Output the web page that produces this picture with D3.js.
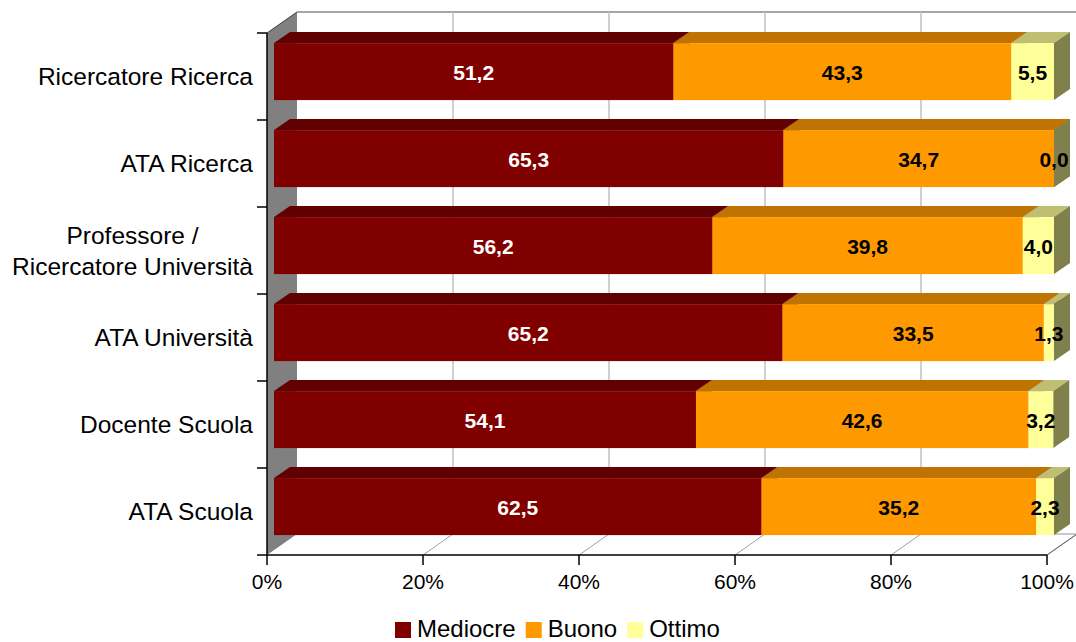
<!DOCTYPE html>
<html>
<head>
<meta charset="utf-8">
<script src="https://cdn.jsdelivr.net/npm/d3@7"></script>
<style>
  html, body { margin: 0; padding: 0; background: #fff; }
  svg { display: block; font-family: "Liberation Sans", Arial, sans-serif; }
</style>
</head>
<body>
<svg id="chart" width="1076" height="642"></svg>
<script>
// Categories, top to bottom
const categories = [
  "Ricercatore Ricerca",
  "ATA Ricerca",
  "Professore / Ricercatore Università",
  "ATA Università",
  "Docente Scuola",
  "ATA Scuola"
];
const seriesNames = ["Mediocre", "Buono", "Ottimo"];
const mediocre = [51.2, 65.3, 56.2, 65.2, 54.1, 62.5];
const buono    = [43.3, 34.7, 39.8, 33.5, 42.6, 35.2];
const ottimo   = [5.5, 0.0, 4.0, 1.3, 3.2, 2.3];
const tickValues = [0, 20, 40, 60, 80, 100];
const tickLabels = ["0%", "20%", "40%", "60%", "80%", "100%"];

const colors = {
  front: ["#800000", "#FF9900", "#FFFF99"],
  top:   ["#600000", "#BF7300", "#BFBF73"],
  side:  ["#400000", "#804C00", "#80804C"],
  label: ["#ffffff", "#000000", "#000000"]
};

const rows = categories.map((c, i) => ({
  cat: c,
  values: [mediocre[i], buono[i], ottimo[i]]
}));

const svg = d3.select("#chart");

// Front plane of the plot box
const x = d3.scaleLinear().domain([0, 100]).range([267, 1047]);
const y = d3.scaleBand().domain(categories).range([33, 555])
  .paddingInner(0.345).paddingOuter(0.1725);
const yTop = 33, yBottom = 555;

// Depth projection: z = 0 front plane, z = 1 back wall
const DX = 30, DY = -21;
const P = (px, py, z) => [px + z * DX, py + z * DY];
const zFront = 7 / 30, zBack = 23 / 30;

const pts = arr => arr.map(p => p.join(",")).join(" ");

// Left side wall
svg.append("polygon")
  .attr("points", pts([P(x(0), yTop, 0), P(x(0), yTop, 1), P(x(0), yBottom, 1), P(x(0), yBottom, 0)]))
  .attr("fill", "#808080");

// Back wall top edge
svg.append("line")
  .attr("x1", P(x(0), yTop, 1)[0]).attr("y1", P(x(0), yTop, 1)[1])
  .attr("x2", P(x(100), yTop, 1)[0]).attr("y2", P(x(100), yTop, 1)[1])
  .attr("stroke", "#a6a6a6").attr("stroke-width", 2);

// Back wall gridlines
svg.append("g").selectAll("line")
  .data(tickValues.filter(v => v > 0))
  .join("line")
  .attr("x1", d => P(x(d), yTop, 1)[0]).attr("y1", P(0, yTop, 1)[1])
  .attr("x2", d => P(x(d), yBottom, 1)[0]).attr("y2", P(0, yBottom, 1)[1])
  .attr("stroke", "#c0c0c0").attr("stroke-width", 1.5);

// Floor: back edge and depth lines
svg.append("line")
  .attr("x1", P(x(0), yBottom, 1)[0]).attr("y1", P(0, yBottom, 1)[1])
  .attr("x2", P(x(100), yBottom, 1)[0]).attr("y2", P(0, yBottom, 1)[1])
  .attr("stroke", "#909090").attr("stroke-width", 1);
svg.append("g").selectAll("line")
  .data(tickValues.filter(v => v > 0))
  .join("line")
  .attr("x1", d => x(d)).attr("y1", yBottom)
  .attr("x2", d => P(x(d), yBottom, 1)[0]).attr("y2", P(0, yBottom, 1)[1])
  .attr("stroke", "#a0a0a0").attr("stroke-width", 1);

// Left wall top edge
svg.append("line")
  .attr("x1", x(0)).attr("y1", yTop)
  .attr("x2", P(x(0), yTop, 1)[0]).attr("y2", P(0, yTop, 1)[1])
  .attr("stroke", "#404040").attr("stroke-width", 1);

// Stacked 3D bars
const barsG = svg.append("g");
rows.forEach(r => {
  const yf = y(r.cat) + zFront * DY;     // front face top
  const h = y.bandwidth();
  const depthX = (zBack - zFront) * DX, depthY = (zBack - zFront) * DY;
  let acc = 0;
  r.values.forEach((v, s) => {
    const x0 = x(acc) + zFront * DX;
    const x1 = x(acc + v) + zFront * DX;
    acc += v;
    const g = barsG.append("g");
    // top face
    g.append("polygon")
      .attr("points", pts([[x0, yf], [x0 + depthX, yf + depthY], [x1 + depthX, yf + depthY], [x1, yf]]))
      .attr("fill", colors.top[s]);
    // right face
    g.append("polygon")
      .attr("points", pts([[x1, yf], [x1 + depthX, yf + depthY], [x1 + depthX, yf + h + depthY], [x1, yf + h]]))
      .attr("fill", colors.side[s]);
    // front face
    g.append("rect")
      .attr("x", x0).attr("y", yf)
      .attr("width", Math.max(0, x1 - x0)).attr("height", h)
      .attr("fill", colors.front[s]);
  });
});

// Value labels on the front faces
const labelG = svg.append("g");
rows.forEach(r => {
  const yc = y(r.cat) + zFront * DY + y.bandwidth() / 2;
  let acc = 0;
  r.values.forEach((v, s) => {
    const mid = acc + v / 2;
    acc += v;
    labelG.append("text")
      .attr("x", x(mid) + zFront * DX)
      .attr("y", yc + 8)
      .attr("text-anchor", "middle")
      .attr("font-size", 21)
      .attr("font-weight", "bold")
      .attr("fill", colors.label[s])
      .text(v.toFixed(1).replace(".", ","));
  });
});

// Category axis (left)
svg.append("line")
  .attr("x1", x(0)).attr("y1", yTop).attr("x2", x(0)).attr("y2", yBottom)
  .attr("stroke", "#000").attr("stroke-width", 1.5);
const bandEdges = d3.range(categories.length + 1).map(i => yTop + i * y.step());
svg.append("g").selectAll("line")
  .data(bandEdges)
  .join("line")
  .attr("x1", x(0) - 10).attr("x2", x(0))
  .attr("y1", d => d).attr("y2", d => d)
  .attr("stroke", "#000").attr("stroke-width", 1.5);

const catG = svg.append("g");
categories.forEach(c => {
  const yc = y(c) + y.bandwidth() / 2;
  const lines = c === "Professore / Ricercatore Università"
    ? ["Professore /", "Ricercatore Università"] : [c];
  const lh = 31;
  const t = catG.append("text")
    .attr("font-size", 24.5)
    .attr("fill", "#000");
  lines.forEach((ln, k) => {
    t.append("tspan")
      .attr("y", yc + 8.5 + (k - (lines.length - 1) / 2) * lh)
      .text(ln);
  });
  // right-align the block, centring each line within it
  const spans = t.selectAll("tspan").nodes();
  const maxW = d3.max(spans.map(n => n.getComputedTextLength()));
  const right = 253;
  spans.forEach(n => {
    d3.select(n).attr("x", right - maxW / 2).attr("text-anchor", "middle");
  });
});

// Value axis (front floor edge)
svg.append("line")
  .attr("x1", x(0)).attr("y1", yBottom).attr("x2", x(100)).attr("y2", yBottom)
  .attr("stroke", "#000").attr("stroke-width", 1.5);
svg.append("line")
  .attr("x1", x(100)).attr("y1", yBottom)
  .attr("x2", P(x(100), yBottom, 1)[0]).attr("y2", P(0, yBottom, 1)[1])
  .attr("stroke", "#606060").attr("stroke-width", 1);
svg.append("g").selectAll("line")
  .data(tickValues)
  .join("line")
  .attr("x1", d => x(d)).attr("x2", d => x(d))
  .attr("y1", yBottom).attr("y2", yBottom + 10)
  .attr("stroke", "#000").attr("stroke-width", 1.5);
svg.append("g").selectAll("text")
  .data(tickValues)
  .join("text")
  .attr("x", d => x(d))
  .attr("y", 589)
  .attr("text-anchor", "middle")
  .attr("font-size", 21)
  .attr("fill", "#000")
  .text((d, i) => tickLabels[i]);

// Legend
const legend = svg.append("g");
let lx = 395;
seriesNames.forEach((name, s) => {
  legend.append("rect")
    .attr("x", lx).attr("y", 622).attr("width", 16).attr("height", 16)
    .attr("fill", colors.front[s]);
  const t = legend.append("text")
    .attr("x", lx + 22).attr("y", 637)
    .attr("font-size", 24).attr("fill", "#000")
    .text(name);
  lx += 22 + t.node().getComputedTextLength() + 10;
});
</script>
</body>
</html>
